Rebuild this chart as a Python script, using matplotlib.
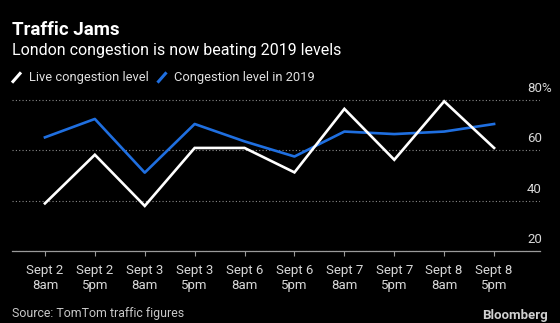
import matplotlib
matplotlib.use("Agg")
import matplotlib.pyplot as plt
from matplotlib.transforms import ScaledTranslation

categories = ["Sept 2\n8am", "Sept 2\n5pm", "Sept 3\n8am", "Sept 3\n5pm", "Sept 6\n8am",
              "Sept 6\n5pm", "Sept 7\n8am", "Sept 7\n5pm", "Sept 8\n8am", "Sept 8\n5pm"]
live = [39, 58.3, 38, 61, 61, 51.3, 76.5, 56.3, 79.5, 61]
level_2019 = [65.2, 72.5, 51.2, 70.5, 63.6, 57.6, 67.5, 66.5, 67.5, 70.5]
yticks = [20, 40, 60, 80]
ytick_labels = ["20", "40", "60", "80%"]

FONT = ["Roboto", "DejaVu Sans"]
plt.rcParams["font.family"] = FONT

W, H = 560, 323
fig = plt.figure(figsize=(W / 100, H / 100), dpi=100, facecolor="black")

def fx(px):
    return px / W

def fy(py):
    return 1 - py / H

ax_left, ax_right = 12, 540
ax_bottom, ax_top = 251.3, 95
ax = fig.add_axes([fx(ax_left), fy(ax_bottom), (ax_right - ax_left) / W, (ax_bottom - ax_top) / H])
ax.set_facecolor("black")

x = list(range(len(categories)))
ax.plot(x, live, color="white", lw=1.9, solid_joinstyle="miter", zorder=3)
ax.plot(x, level_2019, color="#1f6fe0", lw=1.9, solid_joinstyle="round", zorder=2)

ax.set_xlim(-0.66, 9.92)
ax.set_ylim(20, 82)

for s in ["top", "left", "right"]:
    ax.spines[s].set_visible(False)
ax.spines["bottom"].set_color("#9a9a9a")
ax.spines["bottom"].set_linewidth(0.9)

ax.set_xticks(x)
ax.set_xticklabels(categories, fontsize=9.5, color="#d8d8d8", linespacing=1.25)
ax.tick_params(axis="x", length=3.5, width=0.8, color="#9a9a9a", pad=5.5)

ax.yaxis.tick_right()
ax.set_yticks(yticks)
ax.set_yticklabels(ytick_labels, fontsize=9.5, color="#d8d8d8")
ax.tick_params(axis="y", length=0, pad=-9.4)
off = ScaledTranslation(0, 13 / 100, fig.dpi_scale_trans)
for lab in ax.get_yticklabels():
    lab.set_transform(lab.get_transform() + off)
    lab.set_horizontalalignment("left")

ax.grid(axis="y", color="#8a8a8a", linestyle=(0, (1, 2)), linewidth=0.8)
ax.grid(axis="x", visible=False)
ax.set_axisbelow(True)

# titles
fig.text(fx(12), fy(34.6), "Traffic Jams", color="white", fontsize=13.5, fontweight="bold",
         ha="left", va="baseline")
fig.text(fx(12), fy(55.4), "London congestion is now beating 2019 levels", color="white",
         fontsize=11.5, ha="left", va="baseline")

# legend
def legend_item(x0, label, color):
    fig.lines.append(plt.Line2D([fx(x0), fx(x0 + 7)], [fy(81.5), fy(73.5)], color=color,
                                lw=2.2, transform=fig.transFigure, figure=fig))
    fig.text(fx(x0 + 16), fy(77.5), label, color="#e0e0e0", fontsize=9.3, ha="left", va="center")

legend_item(13, "Live congestion level", "white")
legend_item(158.5, "Congestion level in 2019", "#1f6fe0")

fig.text(fx(12), fy(313), "Source: TomTom traffic figures", color="#c8c8c8", fontsize=8.9,
         ha="left", va="center")
fig.text(fx(547.5), fy(316), "Bloomberg", color="#d0d0d0", fontsize=9.5, fontweight="bold",
         ha="right", va="center")

fig.savefig("out.png", dpi=100, facecolor="black")
